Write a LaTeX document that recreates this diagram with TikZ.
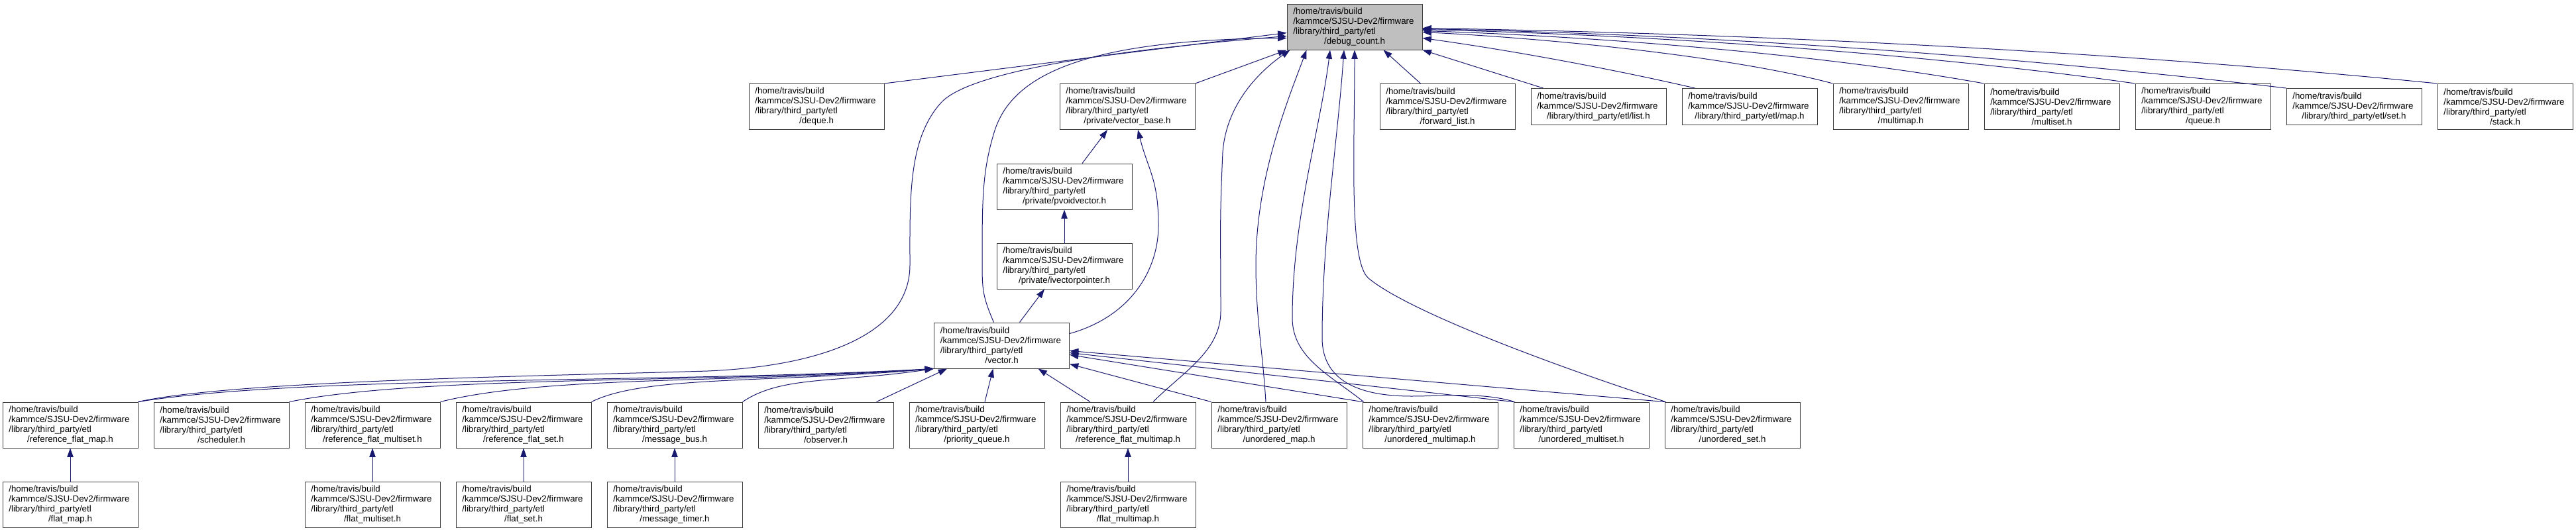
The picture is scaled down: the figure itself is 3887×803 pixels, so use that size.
\documentclass[tikz,border=0pt]{standalone}
\usepackage{fontspec}
\setmainfont{Liberation Sans}
\usetikzlibrary{arrows.meta, calc}
\definecolor{edgecol}{HTML}{191970}
\definecolor{rootfill}{HTML}{BFBFBF}
\definecolor{boxline}{HTML}{3C3C3C}

\begin{document}
\begin{tikzpicture}[
    x=0.75pt, y=-0.75pt,
    hfile/.style={draw=boxline, line width=0.75pt, fill=white,
        font=\fontsize{10pt}{11.25pt}\selectfont,
        align=left, inner xsep=7pt, inner ysep=0pt,
        minimum width=153pt, minimum height=51.75pt},
    hfileshort/.style={hfile, minimum height=41.25pt},
    hroot/.style={hfile, fill=rootfill},
    inc/.style={edgecol, line width=0.75pt, -{Triangle[length=10pt, width=7pt]}},
]
\path[use as bounding box, fill=white] (0,0) rectangle (3887,803);

% path lines: the first ones flush left, the file name centred
\newcommand{\etlfile}[1]{/home/travis/build\\/kammce/SJSU-Dev2/firmware\\/library/third\_party/etl\\\makebox[139pt]{#1}}
\newcommand{\etlline}[1]{/home/travis/build\\/kammce/SJSU-Dev2/firmware\\\makebox[139pt]{/library/third\_party/etl#1}}

\node[hroot] (debugcount) at (2044,40.5) {\etlfile{/debug\_count.h}};

% direct includers
\node[hfile] (deque) at (1232,161) {\etlfile{/deque.h}};
\node[hfile] (vecbase) at (1701,161) {\etlfile{/private/vector\_base.h}};
\node[hfile] (fwdlist) at (2184,161) {\etlfile{/forward\_list.h}};
\node[hfileshort] (list) at (2412,161) {\etlline{/list.h}};
\node[hfileshort] (map) at (2640,161) {\etlline{/map.h}};
\node[hfile] (multimap) at (2868,161) {\etlfile{/multimap.h}};
\node[hfile] (multiset) at (3096,161) {\etlfile{/multiset.h}};
\node[hfile] (queue) at (3324,161) {\etlfile{/queue.h}};
\node[hfileshort] (set) at (3552,161) {\etlline{/set.h}};
\node[hfile] (stack) at (3780,161) {\etlfile{/stack.h}};

\node[hfile] (pvoid) at (1606,281.5) {\etlfile{/private/pvoidvector.h}};
\node[hfile] (ivecptr) at (1606,401.5) {\etlfile{/private/ivectorpointer.h}};
\node[hfile] (vector) at (1511.5,521.5) {\etlfile{/vector.h}};

% everything built on vector.h
\foreach \n/\f [count=\i from 0] in {rfmap/reference\_flat\_map, sched/scheduler,
    rfmset/reference\_flat\_multiset, rfset/reference\_flat\_set, msgbus/message\_bus,
    observer/observer, pqueue/priority\_queue, rfmmap/reference\_flat\_multimap,
    umap/unordered\_map, ummap/unordered\_multimap, umset/unordered\_multiset,
    uset/unordered\_set}
  \node[hfile] (\n) at (106+228*\i,641.5) {\etlfile{/\f.h}};

\foreach \n/\f/\x in {fmap/flat\_map/106, fmset/flat\_multiset/562, fset/flat\_set/790,
    msgtimer/message\_timer/1018, fmmap/flat\_multimap/1702}
  \node[hfile] (\n) at (\x,761.5) {\etlfile{/\f.h}};

% edges into debug_count.h, from the left
\draw[inc] (deque.north east) -- ($(debugcount.west)+(0,9)$);
\draw[inc] (rfmap.north east) .. controls (350,575) and (800,568) .. (1068,560)
    .. controls (1250,552) and (1373,500) .. (1373,400)
    .. controls (1373,300) and (1370,210) .. (1420,155)
    .. controls (1470,100) and (1750,70) .. ($(debugcount.west)+(0,14)$);
\draw[inc] ($(vector.north)+(-12,0)$) .. controls (1484,450) and (1482,440) .. (1482,400)
    .. controls (1482,300) and (1482,260) .. (1500,200)
    .. controls (1524,120) and (1620,60) .. ($(debugcount.west)+(0,17)$);

% from below
\draw[inc] (vecbase.north east) -- (debugcount.south west);
\draw[inc] ($(rfmmap.north)+(38,0)$) .. controls +(45,-45) and +(0,60) .. (1842,470)
    .. controls +(0,-120) and +(-5,110) .. (1845,230)
    .. controls +(5,-70) and +(-50,35) .. ($(debugcount.south west)+(5,0)$);
\draw[inc] ($(umap.north)+(-20,0)$) .. controls +(-5,-80) and +(0,80) .. (1895,400)
    .. controls +(0,-130) and +(-30,80) .. ($(debugcount.south west)+(30,0)$);
\draw[inc] ($(ummap.north west)+(2,0)$) .. controls +(-50,-40) and +(0,60) .. (1950,480)
    .. controls +(0,-150) and +(-15,120) .. ($(debugcount.south)+(-37,0)$);
\draw[inc] ($(umset.north west)+(2,0)$) .. controls +(-50,-15) and +(50,0) .. (2130,598)
    .. controls +(-70,0) and +(0,70) .. (1995,510)
    .. controls +(0,-150) and +(-10,140) .. ($(debugcount.south)+(-16,0)$);
\draw[inc] ($(uset.north west)+(2,0)$) .. controls +(-170,-55) and +(60,50) .. (2065,420)
    .. controls +(-30,-25) and +(0,150) .. (debugcount.south);
\draw[inc] ($(fwdlist.north west)+(62,0)$) -- ($(debugcount.south east)+(-59,0)$);
\draw[inc] ($(list.north west)+(19,0)$) -- (debugcount.south east);

% from the right
\draw[inc] ($(map.north west)+(20,0)$) .. controls +(-130,-30) and +(130,18) .. ($(debugcount.east)+(0,17)$);
\foreach \n/\a/\b/\dy in {multimap/150/200/8, multiset/220/300/6, queue/280/400/4,
    set/340/500/3, stack/400/600/2}
  \draw[inc] (\n.north west) .. controls +(-\a,-40) and +(\b,10) .. ($(debugcount.east)+(0,\dy)$);

% the vector chain
\draw[inc] ($(pvoid.north)+(27,0)$) -- ($(vecbase.south)+(-30,0)$);
\draw[inc] (ivecptr) -- (pvoid);
\draw[inc] ($(vector.north)+(27,0)$) -- ($(ivecptr.south)+(-30,0)$);
\draw[inc] ($(vector.east)+(0,-18)$) .. controls +(90,-25) and +(0,70) .. (1748,340)
    .. controls +(0,-70) and +(15,60) .. ($(vecbase.south)+(16,0)$);

% edges into vector.h
\foreach \n/\a/\b in {rfmap/250/400, sched/200/350, rfmset/160/300, rfset/80/250, msgbus/60/150}
  \draw[inc] (\n.north east) .. controls +(\a,-40) and +(-\b,22) .. (vector.south west);
\draw[inc] ($(observer.north east)+(-26,0)$) -- ($(vector.south west)+(20,0)$);
\draw[inc] ($(pqueue.north)+(12,0)$) -- ($(vector.south)+(-13,0)$);
\draw[inc] ($(rfmmap.north)+(-57,0)$) -- ($(vector.south)+(55,0)$);
\foreach \n/\dy in {umap/28, ummap/14, umset/11, uset/8}
  \draw[inc] (\n.north west) -- ($(vector.east)+(0,\dy)$);

% second level includers
\foreach \a/\b in {fmap/rfmap, fmset/rfmset, fset/rfset, msgtimer/msgbus, fmmap/rfmmap}
  \draw[inc] (\a) -- (\b);
\end{tikzpicture}
\end{document}
